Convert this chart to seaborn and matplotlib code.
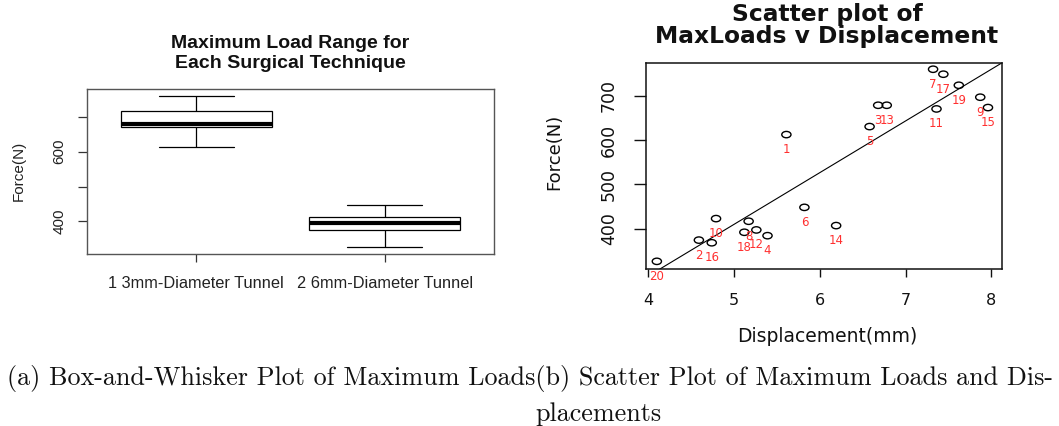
import numpy as np
import pandas as pd
import matplotlib
matplotlib.use("Agg")
import matplotlib.pyplot as plt
import seaborn as sns
from matplotlib.path import Path
from matplotlib.transforms import Affine2D

# Specimen measurements: maximum load (N) and displacement at failure (mm)
specimen = list(range(1, 21))
displacement = [5.61, 4.59, 6.68, 5.39, 6.58, 5.82, 7.32, 5.17, 7.87, 4.79,
                7.36, 5.26, 6.78, 6.19, 7.96, 4.74, 7.44, 5.12, 7.62, 4.10]
max_load = [612.5, 374.0, 678.8, 384.0, 630.6, 448.0, 760.2, 416.6, 697.0, 422.6,
            670.5, 397.0, 678.8, 406.8, 673.6, 368.0, 749.0, 391.7, 724.0, 326.0]

# Odd specimens used the 3 mm tunnel, even specimens the 6 mm tunnel
technique_names = ["1 3mm-Diameter Tunnel", "2 6mm-Diameter Tunnel"]
technique = [technique_names[(s + 1) % 2] for s in specimen]

box_yticks = [400, 500, 600, 700]
box_yticklabels = ["400", "", "600", ""]
scatter_xticks = [4, 5, 6, 7, 8]
scatter_yticks = [400, 500, 600, 700]

box_title = "Maximum Load Range for\nEach Surgical Technique"
scatter_title = "Scatter plot of\nMaxLoads v Displacement"
caption_line1 = ("(a) Box-and-Whisker Plot of Maximum Loads"
                 "(b) Scatter Plot of Maximum Loads and Dis-")
caption_line2 = "placements"

df = pd.DataFrame({
    "specimen": specimen,
    "displacement": displacement,
    "force": max_load,
    "technique": technique,
})

sns.set_theme(style="ticks")
plt.rcParams["font.family"] = ["Liberation Sans", "DejaVu Sans"]

W, H = 1059, 426
fig = plt.figure(figsize=(W / 100, H / 100), dpi=100)
fig.patch.set_facecolor("white")


def axes_px(x0, y0, x1, y1):
    return fig.add_axes([x0 / W, 1 - y1 / H, (x1 - x0) / W, (y1 - y0) / H])


def fig_text(x, y, s, **kw):
    return fig.text(x / W, 1 - y / H, s, **kw)


# ---------------- (a) box-and-whisker plot ----------------
ax1 = axes_px(87, 89, 494, 254)
sns.boxplot(data=df, x="technique", y="force", order=technique_names, ax=ax1,
            whis=(0, 100), width=0.8, color="white", linecolor="black",
            linewidth=0.9, showfliers=False,
            medianprops=dict(linewidth=3.0, color="black"))
ax1.set_xlim(-0.58, 1.58)
ax1.set_ylim(307, 779)
ax1.set_yticks(box_yticks)
ax1.set_yticklabels(box_yticklabels)
ax1.set_xlabel("")
ax1.set_ylabel("Force(N)", fontsize=11, color="#222222", va="center")
ax1.yaxis.set_label_coords((18.5 - 87) / 407, (254 - 171) / 165)
ax1.tick_params(axis="y", length=6.5, width=0.9, pad=8.3, labelsize=11,
                colors="#333333", labelcolor="#222222")
ax1.tick_params(axis="x", length=5.5, width=0.9, pad=10, labelsize=11.8,
                colors="#333333", labelcolor="#222222")
for lbl in ax1.get_yticklabels():
    lbl.set_rotation(90)
    lbl.set_va("center")
for sp in ax1.spines.values():
    sp.set_visible(True)
    sp.set_color("#555555")
    sp.set_linewidth(1.0)
fig_text(290.5, 53.5, box_title, ha="center", va="center", fontsize=14,
         fontweight="bold", linespacing=1.25, color="#111111")

# ---------------- (b) scatter plot with fitted line ----------------
ax2 = axes_px(645.7, 62.7, 1001.7, 269.3)
ellipse = Path.unit_circle().transformed(Affine2D().scale(1.45, 1.0))
sns.scatterplot(data=df, x="displacement", y="force", ax=ax2, marker=ellipse,
                s=44, facecolor="none", edgecolor="black", linewidth=1.0,
                legend=False)
ax2.set_xlim(3.97, 8.12)
ax2.set_ylim(308, 775)
sns.regplot(data=df, x="displacement", y="force", ax=ax2, scatter=False,
            ci=None, truncate=False,
            line_kws=dict(color="black", linewidth=0.8))
ax2.set_xlim(3.97, 8.12)
ax2.set_ylim(308, 775)

for s, x, y in zip(df["specimen"], df["displacement"], df["force"]):
    ax2.annotate(str(s), (x, y), xytext=(0, -10.8), textcoords="offset points",
                 ha="center", va="center", color="#ff3030", fontsize=8.5,
                 family=["DejaVu Sans"])

ax2.set_xticks(scatter_xticks)
ax2.set_yticks(scatter_yticks)
ax2.tick_params(axis="y", length=8.6, width=1.0, pad=11.4, labelsize=12.5,
                colors="#111111")
ax2.tick_params(axis="x", length=5.8, width=1.0, pad=11, labelsize=11.5,
                colors="#111111")
for lbl in ax2.get_yticklabels():
    lbl.set_rotation(90)
    lbl.set_va("center")
    lbl.set_family("DejaVu Sans")
for lbl in ax2.get_xticklabels():
    lbl.set_family("DejaVu Sans")
ax2.set_xlabel("Displacement(mm)", fontsize=13.5, family="DejaVu Sans",
               va="center", color="#111111")
ax2.xaxis.set_label_coords((827.5 - 645.7) / 356, (269.3 - 337) / 206.6)
ax2.set_ylabel("Force(N)", fontsize=13, family="DejaVu Sans", va="center",
               color="#111111")
ax2.yaxis.set_label_coords((554.5 - 645.7) / 356, (269.3 - 152) / 206.6)
for sp in ax2.spines.values():
    sp.set_visible(True)
    sp.set_color("#111111")
    sp.set_linewidth(1.1)
fig_text(827, 25.5, scatter_title, ha="center", va="center", fontsize=16.8,
         fontweight="bold", family="DejaVu Sans", linespacing=1.0,
         color="#111111")

# ---------------- caption ----------------
fig_text(7, 379, caption_line1, ha="left", va="center", fontsize=18.8,
         family="cmr10", color="#111111")
fig_text(598, 414, caption_line2, ha="center", va="center", fontsize=18.8,
         family="cmr10", color="#111111")

fig.savefig("out.png", dpi=100, facecolor="white")
